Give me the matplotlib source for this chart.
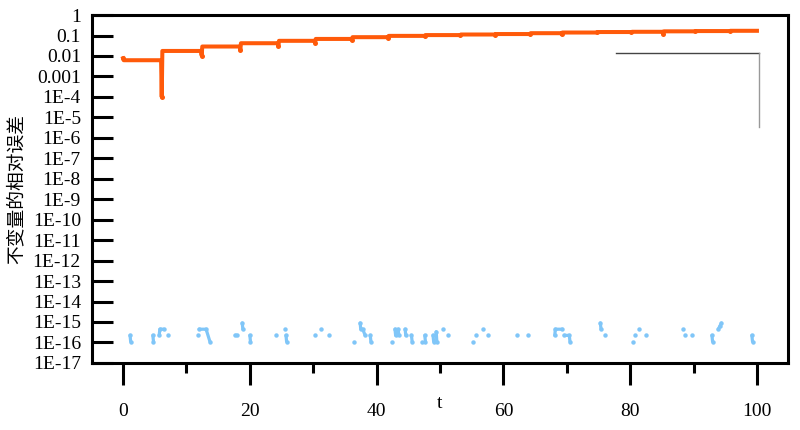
import numpy as np
import matplotlib
matplotlib.use("Agg")
import matplotlib.pyplot as plt
from matplotlib.ticker import FixedLocator, FixedFormatter, NullLocator, MultipleLocator

plt.rcParams['font.family'] = ['Liberation Serif', 'Noto Sans CJK SC']

# orange series: step times, plateau values, values at the step instants
step_t = [0, 6.1, 12.4, 18.5, 24.5, 30.3, 36.1, 41.8, 47.6, 53.2,
          58.7, 64.2, 69.2, 74.7, 80.2, 85.2, 90.2, 95.7]
step_v = [0.0062, 0.0176, 0.029, 0.042, 0.055, 0.068, 0.083, 0.096, 0.105, 0.112,
          0.118, 0.13, 0.14, 0.148, 0.152, 0.16, 0.165, 0.17]
dip_v = [0.0077, 1e-4, 0.0105, 0.0198, 0.031, 0.045, 0.06, 0.078, 0.092, 0.103,
         0.11, 0.116, 0.115, 0.142, 0.148, 0.125, 0.16, 0.164]
t_end = 100.0

# blue series: runs of nonzero error, in multiples of eps
EPS = 1.11e-16
blue_runs = [
    [(1.1, 2), (1.2, 1)],
    [(4.7, 2), (4.8, 1)],
    [(5.7, 2), (5.8, 4), (6.4, 4)],
    [(7.1, 2)],
    [(11.8, 2)],
    [(12.0, 4), (13.1, 4), (13.7, 1)],
    [(17.7, 2), (18.0, 2)],
    [(18.8, 8), (18.9, 4)],
    [(20.0, 2), (20.1, 1)],
    [(24.2, 2)],
    [(25.5, 4)],
    [(25.7, 2), (25.8, 1)],
    [(30.3, 2)],
    [(31.3, 4)],
    [(32.5, 2)],
    [(36.4, 1)],
    [(37.4, 8), (37.5, 4)],
    [(37.8, 4), (38.2, 2)],
    [(39.0, 2), (39.1, 1)],
    [(42.4, 1)],
    [(42.9, 4), (43.0, 2)],
    [(43.4, 4), (43.5, 2)],
    [(44.5, 4), (44.6, 2)],
    [(45.5, 2), (45.6, 1)],
    [(47.1, 1)],
    [(47.6, 2), (47.7, 1)],
    [(48.9, 2), (49.0, 1)],
    [(49.4, 3), (49.5, 1)],
    [(50.4, 4)],
    [(51.2, 2)],
    [(55.2, 1)],
    [(55.7, 2)],
    [(56.8, 4)],
    [(57.5, 2)],
    [(62.1, 2)],
    [(63.9, 2)],
    [(68.1, 2), (68.2, 4), (69.3, 4)],
    [(69.6, 2), (70.4, 2), (70.5, 1)],
    [(75.3, 8), (75.4, 4)],
    [(76.0, 2)],
    [(80.4, 1)],
    [(80.8, 2)],
    [(81.4, 4)],
    [(82.5, 2)],
    [(88.4, 4)],
    [(88.7, 2)],
    [(89.7, 2)],
    [(92.9, 2), (93.0, 1)],
    [(93.9, 4), (94.2, 6), (94.4, 8)],
    [(99.2, 2), (99.3, 1)],
]

ytick_vals = [10.0 ** -k for k in range(18)]
ytick_labels = ["1", "0.1", "0.01", "0.001"] + [f"1E-{k}" for k in range(4, 18)]
xticks = [0, 20, 40, 60, 80, 100]

ORANGE = "#ff5a0a"
BLUE = "#80c6f8"

# build orange step line
ot, ov = [], []
for i, t0 in enumerate(step_t):
    t1 = step_t[i + 1] if i + 1 < len(step_t) else t_end
    ot += [t0, t0 + 0.1, t1 - 0.1]
    ov += [dip_v[i], step_v[i], step_v[i]]
ot.append(t_end); ov.append(step_v[-1])

# build blue line with gaps
bt, bv = [], []
for run in blue_runs:
    for t, k in run:
        bt.append(t); bv.append(k * EPS)
    bt.append(np.nan); bv.append(np.nan)

fig = plt.figure(figsize=(8, 4.3), dpi=100)
ax = fig.add_axes([0.115, 0.156, 0.87, 0.809])

ax.plot(ot, ov, color=ORANGE, lw=2.9, solid_joinstyle="round", zorder=3)
ax.plot(step_t, dip_v, "o", color=ORANGE, ms=3.6, mew=0, zorder=3)
ax.plot(bt, bv, color=BLUE, lw=2.3, marker="o", ms=3.2, mew=0,
        solid_capstyle="round", zorder=3)

# empty legend frame remnant
ax.plot([0.753, 0.958], [0.891, 0.891], color="#444444", lw=1.0,
        transform=ax.transAxes)
ax.plot([0.958, 0.958], [0.891, 0.678], color="#999999", lw=1.0,
        transform=ax.transAxes)

ax.set_yscale("log")
ax.set_ylim(1e-17, 1)
ax.set_xlim(-4.9, 104.9)
ax.yaxis.set_major_locator(FixedLocator(ytick_vals))
ax.yaxis.set_major_formatter(FixedFormatter(ytick_labels))
ax.yaxis.set_minor_locator(NullLocator())
ax.set_xticks(xticks)
ax.xaxis.set_minor_locator(MultipleLocator(10))

for sp in ax.spines.values():
    sp.set_linewidth(2.2)
ax.tick_params(axis="y", direction="in", length=15, width=2.2, pad=8,
               labelsize=14, right=False)
ax.tick_params(axis="x", which="major", direction="out", length=16, width=2.2,
               pad=13, labelsize=14, top=False)
ax.tick_params(axis="x", which="minor", direction="out", length=7, width=2.2,
               top=False)

ax.set_xlabel("t", fontsize=14)
ax.xaxis.set_label_coords(0.5, -0.092)
ax.set_ylabel("不变量的相对误差", fontsize=13.5, family=["Noto Sans CJK SC"],
              labelpad=4)

fig.savefig("out.png", dpi=100)
